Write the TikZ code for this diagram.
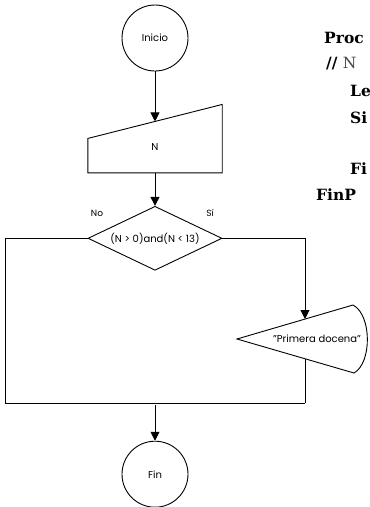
\documentclass[tikz,border=0pt]{standalone}
\usepackage{fontspec}
\setmainfont{Poppins}
\newfontfamily\codefont{DejaVu Serif}
\usepackage{xcolor}
\usetikzlibrary{positioning,arrows.meta,shapes.geometric,calc}
\definecolor{comentario}{RGB}{70,70,80}

\begin{document}
\begin{tikzpicture}[
    x=1pt, y=-1pt,
    every node/.style={font=\fontsize{10}{12}\selectfont},
    terminal/.style={circle, draw, line width=0.9pt, minimum size=66pt, inner sep=0pt},
    entrada/.style={rectangle, minimum width=134pt, minimum height=51pt, inner sep=0pt},
    decision/.style={diamond, draw, line width=0.9pt, minimum width=134pt, minimum height=64pt, inner sep=0pt, aspect=2.1},
    flecha/.style={-{Triangle[length=9pt,width=9pt]}, line width=0.9pt},
    linea/.style={line width=0.9pt},
    rotulo/.style={font=\fontsize{9}{11}\selectfont},
    codigo/.style={font=\codefont\bfseries\fontsize{15.5}{18}\selectfont, anchor=base west, inner sep=0pt}
]
\useasboundingbox (0,0) rectangle (370,507);

% Diagrama
\node[terminal] (inicio) at (155,38) {Inicio};
\node[entrada, below=50pt of inicio] (entrada) {N};
\node[decision, below=33pt of entrada] (cond) {(N > 0)and(N < 13)};
\node[terminal, below=170pt of cond] (fin) {Fin};
\node (salida) at (317,339) {"Primera docena"};

% Formas
\draw[linea] (entrada.south west) -- (entrada.south east) -- ($(entrada.north east)+(0,-17)$)
    -- ($(entrada.north west)+(0,17)$) -- cycle;
\draw[linea] ($(salida)+(-80,0)$) -- ($(salida)+(36,-34)$)
    .. controls ($(salida)+(55,-24)$) and ($(salida)+(55,24)$) .. ($(salida)+(37,34)$) -- cycle;

% Rotulos
\node[rotulo] (no) at ($(cond)+(-58,-25)$) {No};
\node[rotulo] (si) at ($(cond)+(55,-25)$) {Sí};

% Puntos de union
\coordinate (stop) at (305,319);
\coordinate (sbot) at (305,359);
\coordinate (jm) at ($(fin.north)+(0,-36)$);
\coordinate (jl) at (5,403);
\coordinate (jr) at (305,403);

% Flechas
\draw[flecha] (inicio) -- (entrada.north);
\draw[flecha] (entrada) -- (cond);
\draw[linea] (cond.west) -| (jl);
\draw[flecha] (cond.east) -| (stop);
\draw[linea] (sbot) -- (jr);
\draw[linea] (jl) -- (jr);
\draw[flecha] (jm) -- (fin);

% Pseudocodigo
\begin{scope}
\clip (0,0) rectangle (370,507);
\node[codigo] (proc) at (324,43) {Proc};
\node[codigo] (coment) at (326,68) {// \textcolor{comentario}{\mdseries N}};
\node[codigo] (leer) at (350,96) {Le};
\node[codigo] (sicod) at (350,123) {Si};
\node[codigo] (finsi) at (350,174) {Fi};
\node[codigo] (finproc) at (316,200) {FinP};
\end{scope}
\end{tikzpicture}
\end{document}
